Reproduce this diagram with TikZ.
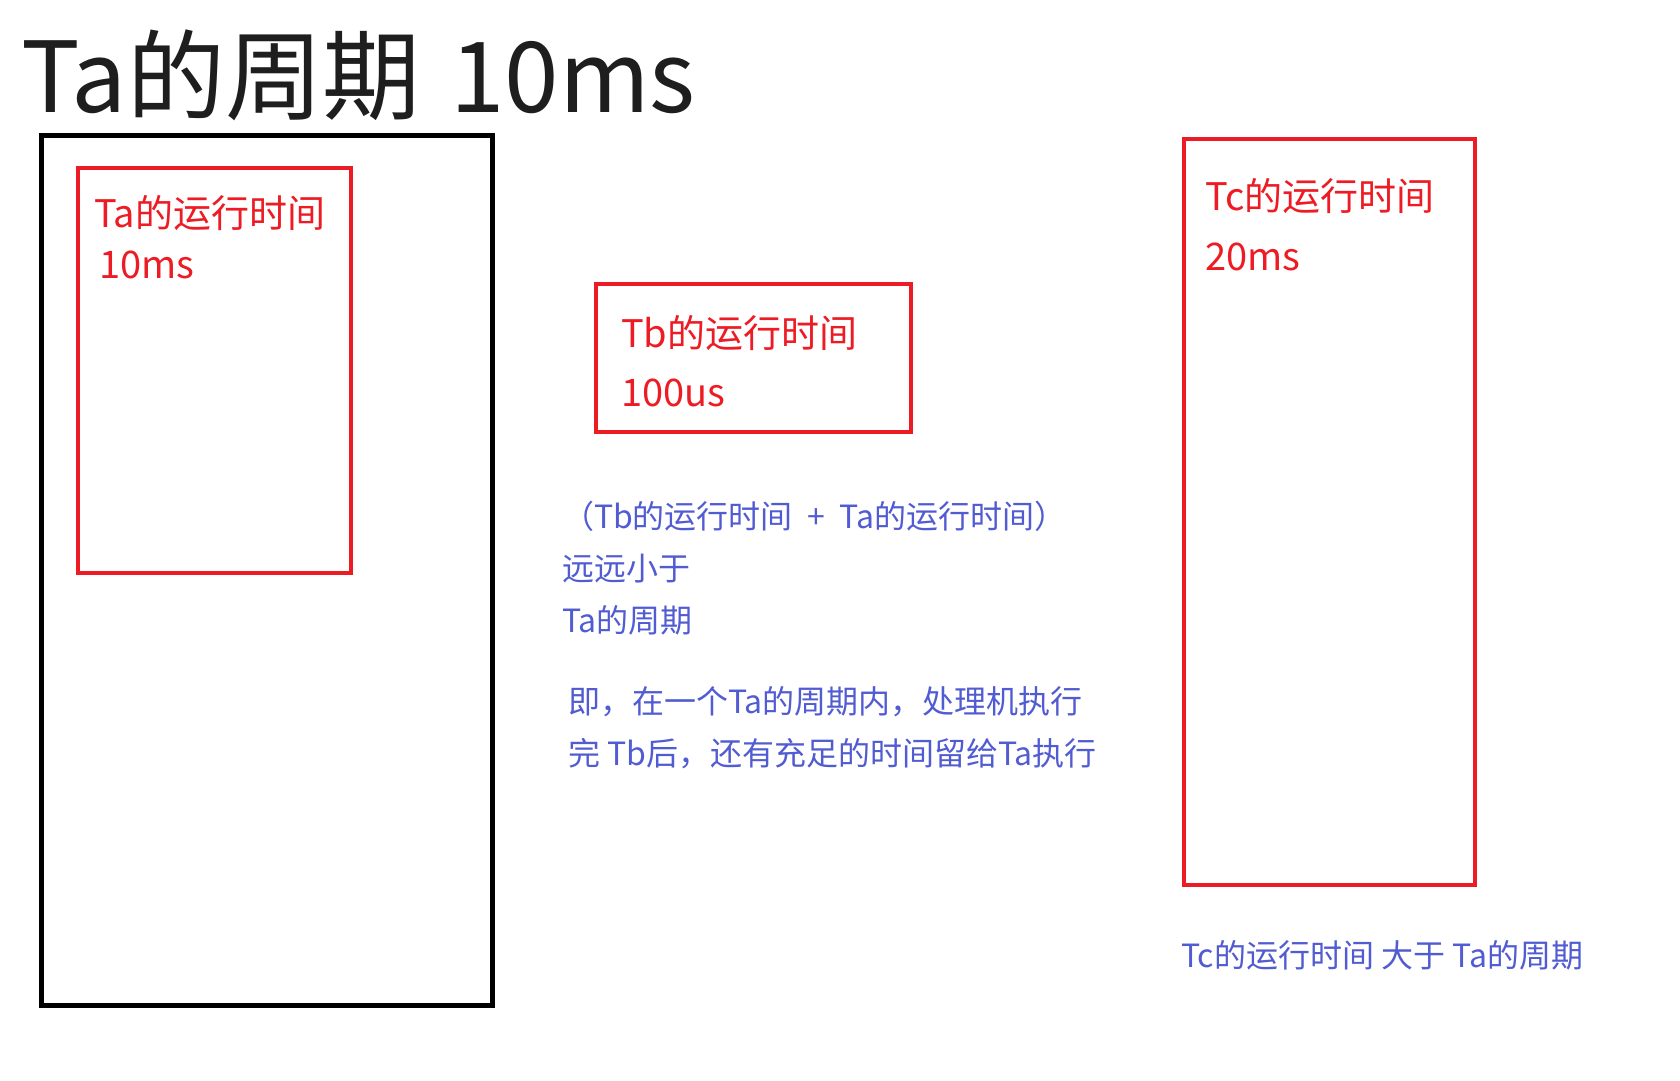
\documentclass[tikz,border=0pt]{standalone}
\usepackage{fontspec}
\setmainfont{Noto Sans CJK SC}
\definecolor{myred}{RGB}{237,28,36}
\definecolor{myblue}{RGB}{82,92,210}
\definecolor{myblack}{RGB}{30,30,30}
\tikzset{
  txt/.style={anchor=base west, inner sep=0pt, outer sep=0pt},
  title/.style={txt, text=myblack, font=\fontsize{98}{118}\selectfont},
  redtxt/.style={txt, text=myred, font=\fontsize{38}{46}\selectfont},
  bluetxt/.style={txt, text=myblue, font=\fontsize{32}{38}\selectfont},
  redbox/.style={draw=myred, line width=4pt},
  blackbox/.style={draw=black, line width=5pt}
}
\begin{document}
\begin{tikzpicture}[x=1pt,y=-1pt]
\useasboundingbox[fill=white] (0,0) rectangle (1680,1080);
% title
\node[title] (title) at (21,112) {Ta的周期\hspace{0.3em}10ms};
% boxes
\draw[blackbox] (41,135) rectangle (492,1005);
\draw[redbox] (78,168) rectangle (351,573);
\draw[redbox] (596,284) rectangle (911,432);
\draw[redbox] (1184,139) rectangle (1475,885);
% red texts
\node[redtxt] (ta1) at (94,227) {Ta的运行时间};
\node[redtxt] (ta2) at (99,278) {10ms};
\node[redtxt] (tb1) at (621,347) {Tb的运行时间};
\node[redtxt] (tb2) at (621,406) {100us};
\node[redtxt] (tc1) at (1205,210) {Tc的运行时间};
\node[redtxt] (tc2) at (1205,270) {20ms};
% blue texts
\node[bluetxt] (b1) at (562,528) {（Tb的运行时间\hspace{0.45em}+\hspace{0.45em}Ta的运行时间）};
\node[bluetxt] (b2) at (562,580) {远远小于};
\node[bluetxt] (b3) at (562,632) {Ta的周期};
\node[bluetxt] (b4) at (568,713) {即，在一个Ta的周期内，处理机执行};
\node[bluetxt] (b5) at (568,765) {完 Tb后，还有充足的时间留给Ta执行};
\node[bluetxt] (b6) at (1181,967) {Tc的运行时间 大于 Ta的周期};
\end{tikzpicture}
\end{document}
